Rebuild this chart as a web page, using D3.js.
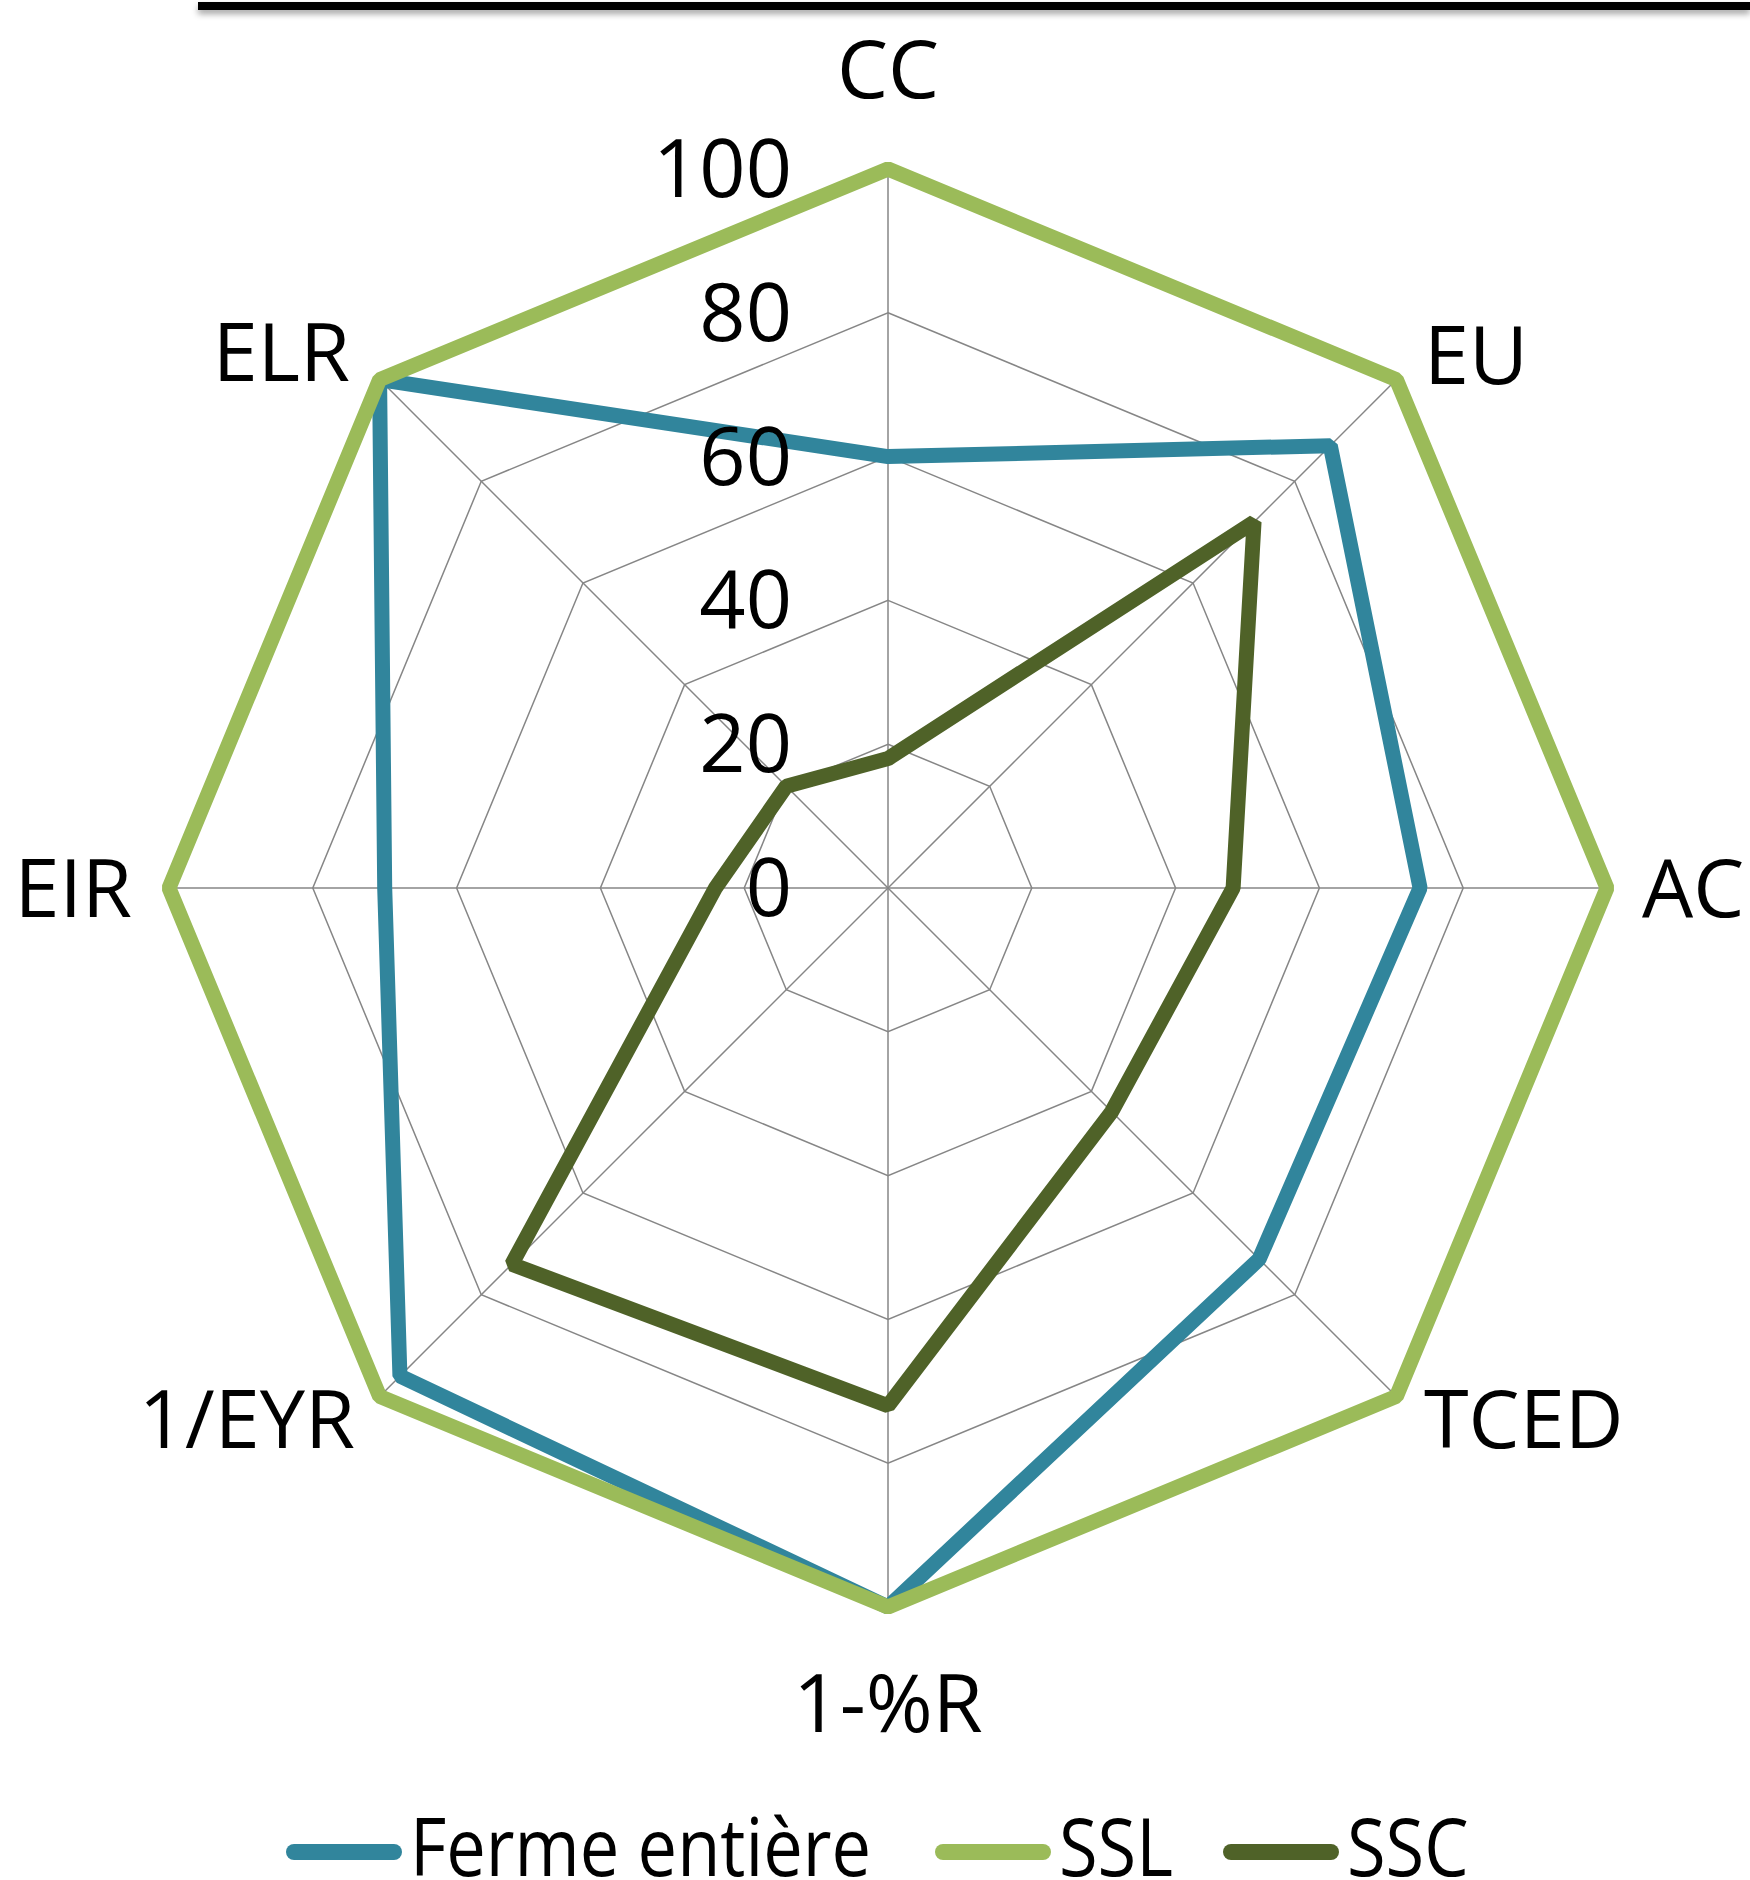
<!DOCTYPE html>
<html>
<head>
  <meta charset="utf-8">
  <script src="https://cdn.jsdelivr.net/npm/d3@7"></script>
  <style>
    body { margin: 0; background: #fff; }
    svg { display: block; }
    text { font-family: "Open Sans", sans-serif; fill: #000; }
  </style>
</head>
<body>
<script>
  // axes, clockwise from the top
  var axes = ["CC", "EU", "AC", "TCED", "1-%R", "1/EYR", "EIR", "ELR"];
  var ticks = [0, 20, 40, 60, 80, 100];

  var seriesNames = ["Ferme entière", "SSL", "SSC"];
  var ferme = [60, 87, 74, 73, 100, 96, 70, 100];
  var ssl = [100, 100, 100, 100, 100, 100, 100, 100];
  var ssc = [18, 72, 48, 44, 72, 74, 24, 20];
  var colors = ["#31859c", "#9bbb59", "#4f6228"];

  var W = 1750, H = 1880;
  var cx = 888, cy = 888;

  var svg = d3.select("body").append("svg")
      .attr("width", W)
      .attr("height", H);

  // top border with soft shadow
  var defs = svg.append("defs");
  var f = defs.append("filter").attr("id", "shadow")
      .attr("x", "-5%").attr("y", "-100%").attr("width", "110%").attr("height", "400%");
  f.append("feDropShadow").attr("dx", 0).attr("dy", 4).attr("stdDeviation", 3)
      .attr("flood-color", "#000").attr("flood-opacity", 0.35);
  svg.append("rect")
      .attr("x", 198).attr("y", 2)
      .attr("width", W - 198).attr("height", 8)
      .attr("fill", "#000")
      .attr("filter", "url(#shadow)");

  var r = d3.scaleLinear().domain([0, 100]).range([0, 719]);
  var angle = d3.scalePoint().domain(axes).range([0, 2 * Math.PI * 7 / 8]);

  var g = svg.append("g").attr("transform", "translate(" + cx + "," + cy + ")");

  // grid rings
  var ring = d3.lineRadial()
      .angle(function (d) { return angle(d); })
      .curve(d3.curveLinearClosed);

  g.selectAll(".ring")
    .data(ticks.slice(1))
    .enter().append("path")
      .attr("class", "ring")
      .attr("d", function (t) { return ring.radius(r(t))(axes); })
      .attr("fill", "none")
      .attr("stroke", "#868686")
      .attr("stroke-width", 1.5);

  // spokes
  g.selectAll(".spoke")
    .data(axes)
    .enter().append("line")
      .attr("class", "spoke")
      .attr("x1", 0).attr("y1", 0)
      .attr("x2", function (d) { return r(100) * Math.sin(angle(d)); })
      .attr("y2", function (d) { return -r(100) * Math.cos(angle(d)); })
      .attr("stroke", "#868686")
      .attr("stroke-width", 1.5);

  // series
  var line = d3.lineRadial()
      .angle(function (d, i) { return angle(axes[i]); })
      .radius(function (d) { return r(d); })
      .curve(d3.curveLinearClosed);

  [ferme, ssl, ssc].forEach(function (vals, i) {
    g.append("path")
      .attr("d", line(vals))
      .attr("fill", "none")
      .attr("stroke", colors[i])
      .attr("stroke-width", 15)
      .attr("stroke-linejoin", "bevel");
  });

  // tick labels
  g.selectAll(".tick")
    .data(ticks)
    .enter().append("text")
      .attr("class", "tick")
      .attr("x", -96)
      .attr("y", function (t) { return -r(t) + 28; })
      .attr("text-anchor", "end")
      .style("font-size", "81px")
      .text(function (t) { return t; });

  // axis labels
  var labelPos = {
    "CC":    [0, -790, "middle"],
    "EU":    [536, -504, "start"],
    "AC":    [754, 29, "start"],
    "TCED":  [536, 560, "start"],
    "1-%R":  [0, 844, "middle"],
    "1/EYR": [-533, 560, "end"],
    "EIR":   [-756, 29, "end"],
    "ELR":   [-538, -507, "end"]
  };
  g.selectAll(".axis-label")
    .data(axes)
    .enter().append("text")
      .attr("class", "axis-label")
      .attr("x", function (d) { return labelPos[d][0]; })
      .attr("y", function (d) { return labelPos[d][1]; })
      .attr("text-anchor", function (d) { return labelPos[d][2]; })
      .style("font-size", "81px")
      .text(function (d) { return d; });

  // legend
  var legendX = [288, 937, 1225];
  var legend = svg.selectAll(".legend")
    .data(seriesNames)
    .enter().append("g")
      .attr("class", "legend")
      .attr("transform", function (d, i) { return "translate(" + legendX[i] + ",1852)"; });
  legend.append("line")
      .attr("x1", 6).attr("x2", 106)
      .attr("stroke", function (d, i) { return colors[i]; })
      .attr("stroke-width", 16)
      .attr("stroke-linecap", "round");
  legend.append("text")
      .attr("transform", "translate(122,24) scale(0.88,1)")
      .style("font-size", "80px")
      .text(function (d) { return d; });
</script>
</body>
</html>
